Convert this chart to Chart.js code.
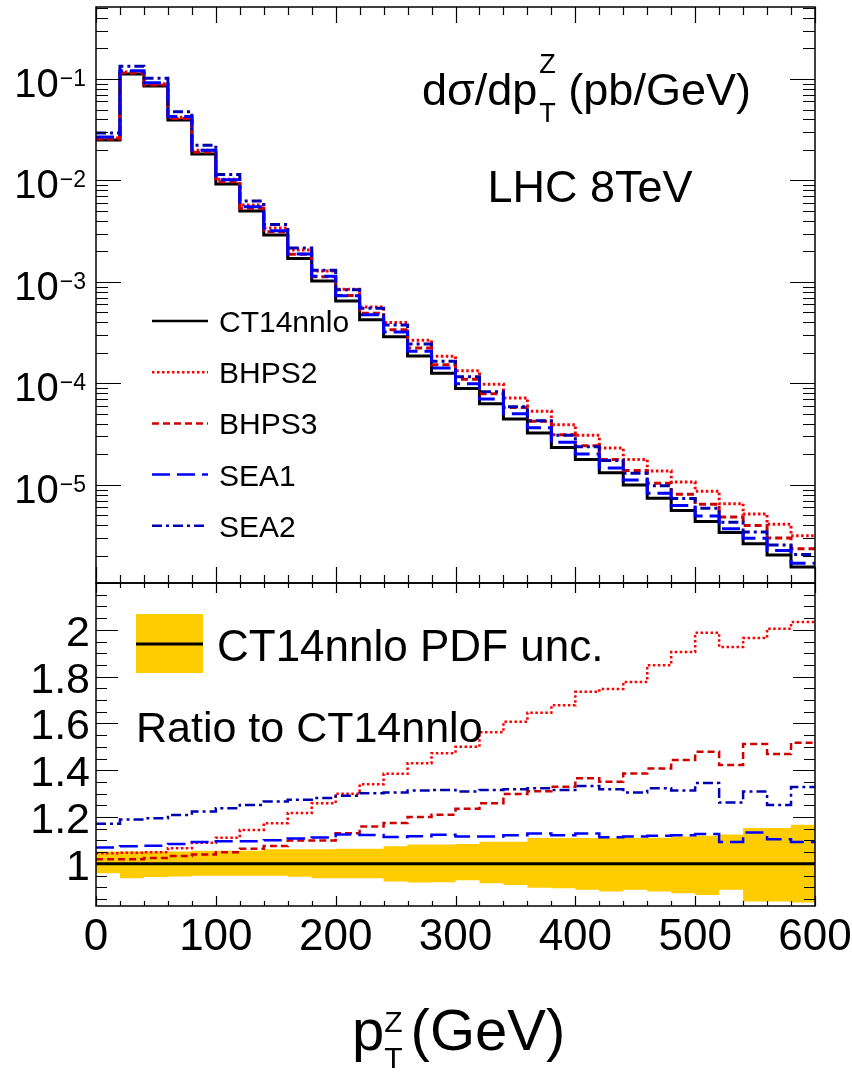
<!DOCTYPE html>
<html>
<head>
<meta charset="utf-8">
<script src="https://cdn.jsdelivr.net/npm/chart.js@4.4.1/dist/chart.umd.min.js"></script>
<style>
  html, body { margin: 0; padding: 0; background: #fff; }
  #wrap { width: 852px; height: 1073px; }
</style>
</head>
<body>
<div id="wrap"><canvas id="chart" width="852" height="1073"></canvas></div>
<script>
// Binning: lower edges of the 20 GeV pT bins
const binLow = [0, 20, 40, 60, 80, 100, 120, 140, 160, 180, 200, 220, 240, 260, 280,
  300, 320, 340, 360, 380, 400, 420, 440, 460, 480, 500, 520, 540, 560, 580];
const binWidth = 20;

// dsigma/dpT (pb/GeV) for CT14nnlo
const ct14nnlo = [0.0251, 0.112, 0.0853, 0.0394, 0.0182, 0.00925, 0.00501, 0.00290, 0.00170, 0.00102,
  6.5e-4, 4.23e-4, 2.88e-4, 1.86e-4, 1.26e-4, 8.9e-5, 6.3e-5, 4.47e-5, 3.24e-5, 2.34e-5,
  1.78e-5, 1.32e-5, 1.0e-5, 7.4e-6, 5.6e-6, 4.37e-6, 3.39e-6, 2.63e-6, 2.04e-6, 1.55e-6];

// Ratios to CT14nnlo
const ratioBHPS2 = [1.045, 1.047, 1.05, 1.067, 1.09, 1.112, 1.145, 1.174, 1.217, 1.259,
  1.30, 1.34, 1.385, 1.43, 1.473, 1.50, 1.562, 1.607, 1.646, 1.678,
  1.735, 1.747, 1.777, 1.849, 1.905, 1.987, 1.927, 1.965, 2.005, 2.033];
const ratioBHPS3 = [1.02, 1.02, 1.025, 1.034, 1.04, 1.05, 1.065, 1.076, 1.10, 1.10,
  1.131, 1.16, 1.175, 1.20, 1.21, 1.235, 1.259, 1.299, 1.31, 1.33,
  1.366, 1.351, 1.386, 1.407, 1.444, 1.479, 1.422, 1.512, 1.469, 1.518];
const ratioSEA1 = [1.07, 1.075, 1.077, 1.085, 1.093, 1.097, 1.097, 1.101, 1.108, 1.113,
  1.125, 1.123, 1.115, 1.118, 1.124, 1.117, 1.117, 1.122, 1.13, 1.122,
  1.13, 1.114, 1.117, 1.12, 1.122, 1.128, 1.093, 1.134, 1.105, 1.093];
const ratioSEA2 = [1.171, 1.19, 1.195, 1.209, 1.224, 1.238, 1.252, 1.266, 1.274, 1.281,
  1.291, 1.302, 1.305, 1.313, 1.316, 1.309, 1.316, 1.319, 1.323, 1.316,
  1.333, 1.319, 1.305, 1.323, 1.313, 1.345, 1.262, 1.309, 1.252, 1.328];
const ratioRef = 1;

// CT14nnlo PDF uncertainty band (ratio)
const pdfUncUp = [1.053, 1.053, 1.053, 1.053, 1.056, 1.056, 1.056, 1.062, 1.062, 1.062,
  1.065, 1.065, 1.075, 1.083, 1.083, 1.085, 1.095, 1.095, 1.11, 1.11,
  1.11, 1.11, 1.11, 1.112, 1.117, 1.12, 1.125, 1.153, 1.153, 1.167];
const pdfUncLo = [0.96, 0.939, 0.944, 0.946, 0.949, 0.949, 0.949, 0.949, 0.945, 0.939,
  0.939, 0.939, 0.925, 0.92, 0.922, 0.93, 0.917, 0.91, 0.898, 0.896,
  0.889, 0.882, 0.889, 0.882, 0.875, 0.867, 0.889, 0.839, 0.839, 0.835];

const xTickLabels = ['0', '100', '200', '300', '400', '500', '600'];
const ratioTickLabels = ['1', '1.2', '1.4', '1.6', '1.8', '2'];
const logTickExps = [-1, -2, -3, -4, -5];

const FONT = "'Liberation Sans', Arial, Helvetica, sans-serif";

// Styles for the curves
const styles = {
  CT14nnlo: { color: '#000000', dash: [] },
  BHPS2: { color: '#ff0000', dash: [2.5, 2.5] },
  BHPS3: { color: '#cc0000', dash: [7, 4] },
  SEA1: { color: '#0000ff', dash: [18, 7] },
  SEA2: { color: '#0000b0', dash: [10, 4, 3, 4] }
};

// Histogram as step points (last edge repeated)
function steps(vals) {
  const pts = binLow.map((x, i) => ({ x: x, y: vals[i] }));
  pts.push({ x: binLow[binLow.length - 1] + binWidth, y: vals[vals.length - 1] });
  return pts;
}
const times = (r) => r.map((v, i) => v * ct14nnlo[i]);

function histSet(label, vals, axis, width, order) {
  return {
    label: label,
    data: steps(vals),
    yAxisID: axis,
    stepped: 'before',
    borderColor: styles[label].color,
    borderDash: styles[label].dash,
    borderWidth: width,
    pointRadius: 0,
    fill: false,
    order: order
  };
}

const datasets = [
  histSet('CT14nnlo', ct14nnlo, 'yTop', 3, 5),
  histSet('BHPS2', times(ratioBHPS2), 'yTop', 3, 4),
  histSet('BHPS3', times(ratioBHPS3), 'yTop', 3, 3),
  histSet('SEA2', times(ratioSEA2), 'yTop', 3, 2),
  histSet('SEA1', times(ratioSEA1), 'yTop', 3, 1),
  {
    label: 'band up', data: steps(pdfUncUp), yAxisID: 'yRat', stepped: 'before',
    borderColor: 'rgba(0,0,0,0)', borderWidth: 1, pointRadius: 0,
    backgroundColor: '#ffcc00', fill: '+1', order: 20
  },
  {
    label: 'band lo', data: steps(pdfUncLo), yAxisID: 'yRat', stepped: 'before',
    borderColor: 'rgba(0,0,0,0)', borderWidth: 1, pointRadius: 0, fill: false, order: 21
  },
  histSet('CT14nnlo', binLow.map(() => ratioRef), 'yRat', 3, 15),
  histSet('BHPS2', ratioBHPS2, 'yRat', 2.5, 14),
  histSet('BHPS3', ratioBHPS3, 'yRat', 2.5, 13),
  histSet('SEA2', ratioSEA2, 'yRat', 2.5, 12),
  histSet('SEA1', ratioSEA1, 'yRat', 2.5, 11)
];

function drawTickSet(ctx, L, R, scale, majors, minors, majLen, minLen) {
  const draw = (v, len) => {
    const y = Math.round(scale.getPixelForValue(v)) + 0.5;
    ctx.beginPath();
    ctx.moveTo(L, y); ctx.lineTo(L + len, y);
    ctx.moveTo(R, y); ctx.lineTo(R - len, y);
    ctx.stroke();
  };
  majors.forEach(v => draw(v, majLen));
  minors.forEach(v => draw(v, minLen));
}

const frameAndText = {
  id: 'frameAndText',
  afterDraw(chart) {
    const ctx = chart.ctx;
    const sx = chart.scales.x, yT = chart.scales.yTop, yR = chart.scales.yRat;
    const L = sx.left, R = sx.right;
    ctx.save();
    ctx.strokeStyle = '#000';
    ctx.fillStyle = '#000';

    // frames
    ctx.lineWidth = 1.5;
    ctx.strokeRect(L, yT.top, R - L, yT.bottom - yT.top);
    ctx.strokeRect(L, yR.top, R - L, yR.bottom - yR.top);

    // x ticks on both panels
    ctx.lineWidth = 1.2;
    for (let v = 0; v <= 600; v += 20) {
      const x = Math.round(sx.getPixelForValue(v)) + 0.5;
      const major = v % 100 === 0;
      const lt = major ? 16 : 8, lr = major ? 10 : 5;
      ctx.beginPath();
      ctx.moveTo(x, yT.top); ctx.lineTo(x, yT.top + lt);
      ctx.moveTo(x, yT.bottom); ctx.lineTo(x, yT.bottom - lt);
      ctx.moveTo(x, yR.top); ctx.lineTo(x, yR.top + lr);
      ctx.moveTo(x, yR.bottom); ctx.lineTo(x, yR.bottom - lr);
      ctx.stroke();
    }

    // log y ticks
    const logMaj = [], logMin = [];
    for (let e = -6; e <= 0; e++) {
      for (let m = 1; m <= 9; m++) {
        const v = m * Math.pow(10, e);
        if (v < yT.min || v > yT.max) continue;
        (m === 1 ? logMaj : logMin).push(v);
      }
    }
    drawTickSet(ctx, L, R, yT, logMaj, logMin, 25, 12);

    // ratio y ticks
    const rMaj = [], rMin = [];
    for (let i = 0; i * 0.05 + 0.8 <= yR.max + 1e-9; i++) {
      const v = 0.8 + i * 0.05;
      if (v < yR.min) continue;
      (i % 4 === 0 ? rMaj : rMin).push(v);
    }
    drawTickSet(ctx, L, R, yR, rMaj, rMin, 22, 11);

    // x tick labels
    ctx.font = '44px ' + FONT;
    ctx.textAlign = 'center';
    ctx.textBaseline = 'alphabetic';
    xTickLabels.forEach(t => {
      ctx.fillText(t, sx.getPixelForValue(Number(t)), yR.bottom + 44);
    });

    // ratio y labels
    ctx.font = '43px ' + FONT;
    ctx.textAlign = 'right';
    ratioTickLabels.forEach(t => {
      ctx.fillText(t, L - 6, yR.getPixelForValue(Number(t)) + 16);
    });

    // log y labels: 10^-n
    logTickExps.forEach(e => {
      const y = yT.getPixelForValue(Math.pow(10, e));
      ctx.font = '23px ' + FONT;
      const sup = '\u2212' + (-e);
      const w = ctx.measureText(sup).width;
      ctx.fillText(sup, L - 10, y + 7);
      ctx.font = '40px ' + FONT;
      ctx.fillText('10', L - 11 - w, y + 18);
    });

    // y-axis quantity label in the top panel
    ctx.textAlign = 'left';
    ctx.font = '45px ' + FONT;
    let x0 = 422;
    const head = 'd\u03c3/dp';
    ctx.fillText(head, x0, 105);
    let xs = x0 + ctx.measureText(head).width + 2;
    ctx.font = '27px ' + FONT;
    ctx.fillText('Z', xs, 73);
    ctx.fillText('T', xs, 122);
    xs += Math.max(ctx.measureText('Z').width, ctx.measureText('T').width);
    ctx.font = '45px ' + FONT;
    ctx.fillText(' (pb/GeV)', xs, 105);

    ctx.textAlign = 'center';
    ctx.fillText('LHC 8TeV', 590, 202);

    // top legend
    const legendNames = ['CT14nnlo', 'BHPS2', 'BHPS3', 'SEA1', 'SEA2'];
    ctx.textAlign = 'left';
    legendNames.forEach((name, i) => {
      const y = 321 + i * 51.2;
      ctx.save();
      ctx.strokeStyle = styles[name].color;
      ctx.setLineDash(styles[name].dash);
      ctx.lineWidth = 2.5;
      ctx.beginPath();
      ctx.moveTo(152, y); ctx.lineTo(208, y);
      ctx.stroke();
      ctx.restore();
      ctx.font = '30px ' + FONT;
      ctx.fillText(name, 219, y + 11);
    });

    // ratio legend
    ctx.fillStyle = '#ffcc00';
    ctx.fillRect(136, 614, 67, 59);
    ctx.strokeStyle = '#000';
    ctx.lineWidth = 3;
    ctx.beginPath();
    ctx.moveTo(136, 644); ctx.lineTo(203, 644);
    ctx.stroke();
    ctx.fillStyle = '#000';
    ctx.font = '44px ' + FONT;
    ctx.fillText('CT14nnlo PDF unc.', 217, 661);
    ctx.font = '43px ' + FONT;
    ctx.fillText('Ratio to CT14nnlo', 136, 742);

    // x axis title: p_T^Z (GeV)
    ctx.font = '58px ' + FONT;
    let tx = 352;
    ctx.fillText('p', tx, 1050);
    tx += ctx.measureText('p').width;
    ctx.font = '30px ' + FONT;
    ctx.fillText('Z', tx, 1032);
    ctx.fillText('T', tx, 1068);
    tx += Math.max(ctx.measureText('Z').width, ctx.measureText('T').width) + 8;
    ctx.font = '58px ' + FONT;
    ctx.fillText('(GeV)', tx, 1050);

    ctx.restore();
  }
};

const hidden = {
  grid: { display: false, drawTicks: false },
  border: { display: false },
  ticks: { display: false }
};

new Chart(document.getElementById('chart'), {
  type: 'line',
  data: { datasets: datasets },
  options: {
    responsive: false,
    animation: false,
    events: [],
    layout: { padding: { top: 7, right: 37, bottom: 0, left: 0 } },
    plugins: { legend: { display: false }, tooltip: { enabled: false } },
    scales: {
      x: Object.assign({
        type: 'linear', min: 0, max: 600, bounds: 'data',
        afterFit: (s) => { s.height = 167; }
      }, hidden),
      yRat: Object.assign({
        type: 'linear', position: 'left', stack: 'panels', stackWeight: 323, weight: 0,
        min: 0.82, max: 2.2, bounds: 'data',
        afterFit: (s) => { s.width = 96; }
      }, hidden),
      yTop: Object.assign({
        type: 'logarithmic', position: 'left', stack: 'panels', stackWeight: 576, weight: 1,
        min: 1.08e-6, max: 0.512, bounds: 'data',
        afterFit: (s) => { s.width = 96; }
      }, hidden)
    }
  },
  plugins: [frameAndText]
});
</script>
</body>
</html>
